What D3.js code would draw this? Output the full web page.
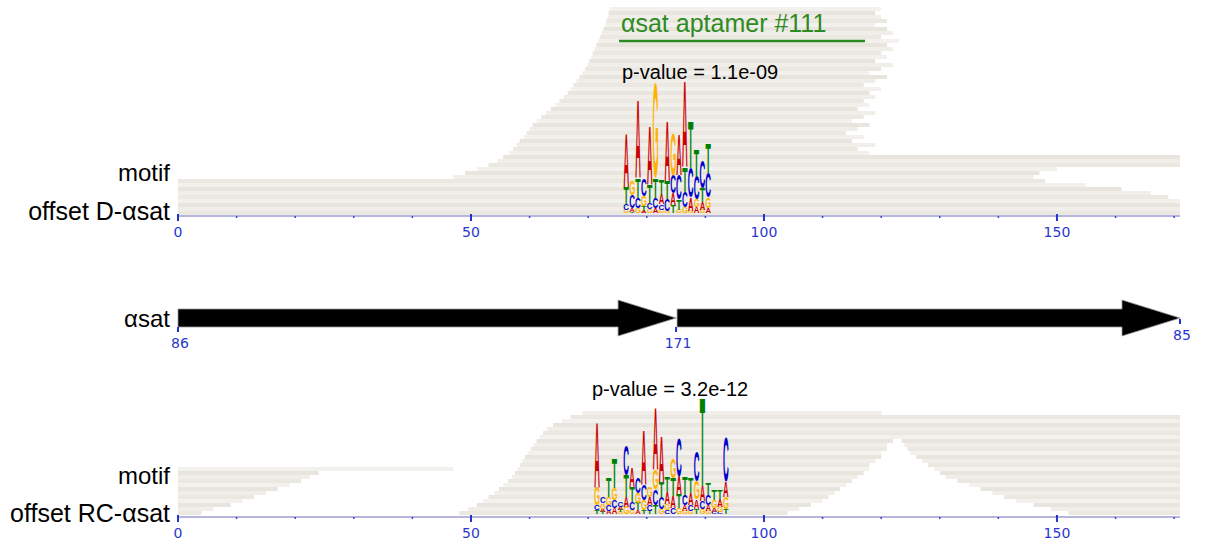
<!DOCTYPE html>
<html>
<head>
<meta charset="utf-8">
<script src="https://cdn.jsdelivr.net/npm/d3@7"></script>
<style>
  body { margin: 0; background: #fff; }
  text { font-family: "Liberation Sans", Arial, sans-serif; }
</style>
</head>
<body>
<svg id="chart" width="1208" height="546"></svg>
<script>
// offsets along the satellite monomer (0..171)
var offsetMax = 171;
var majorTicks = [0, 50, 100, 150];
var minorTicks = [10, 20, 30, 40, 60, 70, 80, 90, 110, 120, 130, 140, 160, 170];

// aligned reads, top panel (D strand): row from the bottom, start, end
var topRow   = [0, 1, 2, 3, 4, 5, 6, 7, 8,
                9, 10, 11, 12, 13, 14, 15, 16, 17, 18, 19, 20, 21, 22, 23, 24, 25, 26, 27, 28, 29, 30,
                31, 32, 33, 34, 35, 36, 37, 38, 39, 40, 41, 42, 43, 44, 45, 46, 47, 48, 49, 50, 51];
var topStart = [0, 0, 0, 0, 0, 0, 0, 0, 0,
                47, 49, 51, 53, 54.5, 55.5, 56.5, 57.2, 57.8, 58.3, 59, 59.5, 60, 60.5, 61.2, 62, 62.8, 63.6, 64.4, 65.1, 65.8, 66.5,
                67, 67.5, 68, 68.5, 69, 69.5, 69.9, 70.2, 70.5, 70.8, 71.1, 71.4, 71.7, 72, 72.3, 72.6, 72.9, 73.1, 73.3, 73.5, 73.7];
var topEnd   = [171, 171, 171, 171, 169, 166, 161, 155, 148,
                146, 147, 150, 171, 171, 171, 118, 116, 119, 115, 117, 114, 116, 118, 115, 117, 119, 116, 118, 117, 119, 118,
                120, 117, 119, 121, 118, 120, 122, 119, 121, 120, 122, 121, 123, 120, 122, 121, 119, 121, 120, 119, 120];

// aligned reads, bottom panel (RC strand)
var botRow   = [0, 1, 2, 3, 4, 5, 6, 7, 8, 9, 10, 11,
                0, 1, 2, 3, 4, 5, 6, 7, 8, 9, 10, 11, 12, 13, 14, 15, 16, 17, 18, 19, 20, 21, 22, 23, 24, 25,
                0, 1, 2, 3, 4, 5, 6, 7, 8, 9, 10, 11, 12, 13, 14, 15, 16, 17, 18];
var botStart = [0, 0, 0, 0, 0, 0, 0, 0, 0, 0, 0, 0,
                48, 49.5, 51, 52, 53, 54, 54.8, 55.5, 56.3, 57, 57.5, 58, 58.4, 58.8, 59.2, 59.7, 60.2, 60.7, 61.2, 61.7, 62.3, 63, 64, 65.5, 67, 69,
                152, 149, 146, 143, 141, 139, 137, 135, 133, 131, 130, 129, 128, 127, 126, 125, 124.5, 124, 123.5];
var botEnd   = [4, 6, 9, 11, 13, 15, 17, 19, 21, 22.5, 24, 47,
                104, 106, 108, 110, 111, 112, 113, 114, 115, 116, 117, 118, 118, 119, 120, 120, 121, 121, 122, 171, 171, 171, 171, 171, 171, 120,
                171, 171, 171, 171, 171, 171, 171, 171, 171, 171, 171, 171, 171, 171, 171, 171, 171, 171, 171];

// motif logos (bits per base)
var topLogoFirst = 76;
var topA = [0.80, 0.05, 1.18, 0.03, 0.88, 0.08, 0.15, 0.91, 0.18, 0.61, 1.29, 0.20, 0.09, 0.12, 0.08];
var topC = [0.09, 0.20, 0.15, 0.26, 0.09, 0.15, 0.08, 0.18, 0.27, 0.38, 0.23, 0.45, 0.35, 0.42, 0.38];
var topG = [0.05, 0.21, 0.08, 0.15, 0.06, 1.44, 0.05, 0.03, 0.64, 0.05, 0.09, 0.03, 0.11, 0.05, 0.15];
var topT = [0.26, 0.02, 0.30, 0.08, 0.27, 0.30, 0.23, 0.27, 0.12, 0.15, 0.38, 0.71, 0.41, 0.21, 0.45];

var botLogoFirst = 71;
var botA = [0.98, 0.05, 0.05, 0.09, 0.05, 0.15, 0.30, 0.06, 0.83, 0.12, 0.94, 0.68, 0.18, 0.18, 0.27, 0.09, 0.18, 0.14, 0.23, 0.09, 0.06, 0.12, 0.23];
var botC = [0.08, 0.09, 0.09, 0.12, 0.08, 0.45, 0.12, 0.23, 0.23, 0.09, 0.23, 0.18, 0.06, 0.09, 0.58, 0.15, 0.09, 0.45, 0.12, 0.15, 0.03, 0.03, 0.68];
var botG = [0.27, 0.08, 0.12, 0.18, 0.03, 0.11, 0.06, 0.15, 0.15, 0.15, 0.30, 0.08, 0.09, 0.30, 0.09, 0.05, 0.05, 0.27, 0.08, 0.05, 0.12, 0.08, 0.18];
var botT = [0.06, 0.03, 0.30, 0.45, 0.03, 0.33, 0.23, 0.11, 0.06, 0.05, 0.14, 0.23, 0.23, 0.27, 0.21, 0.27, 0.24, 0.08, 1.33, 0.18, 0.15, 0.14, 0.08];

// middle track: the monomer drawn as two arrows (86-171, 1-85)
var featureStart = [0, 85];
var featureEnd = [85, 171];
var trackTickPos = [0, 85, 171];
var trackTickLabels = ["86", "171", "85"];

var titleText = "\u03b1sat aptamer #111";
var pTop = "p-value = 1.1e-09";
var pBot = "p-value = 3.2e-12";

var svg = d3.select("#chart");
var x = d3.scaleLinear().domain([0, offsetMax]).range([178, 1180]);
var bits = d3.scaleLinear().domain([0, 2]).range([0, 132]);
var shades = ["#ebe7e1", "#f1eee9", "#e8e4de", "#f3f1ed"];
var letterColor = {A: "#cc0000", C: "#0000cc", G: "#ffb300", T: "#008000"};

function drawReads(rows, starts, ends, yBase, rowH) {
    var g = svg.append("g");
    var reads = rows.map(function (r, i) { return {row: r, s: starts[i], e: ends[i]}; });
    g.selectAll("rect").data(reads).enter().append("rect")
        .attr("x", function (d) { return x(d.s); })
        .attr("width", function (d) { return x(d.e) - x(d.s); })
        .attr("y", function (d) { return yBase - rowH * (d.row + 1); })
        .attr("height", rowH)
        .attr("fill", function (d) { return shades[d.row % shades.length]; });
}

// measure letter ink boxes once so glyphs can be stretched to fill a cell
var ctx = document.createElement("canvas").getContext("2d");
ctx.font = "bold 100px 'Liberation Sans'";
var ink = {};
"ACGT".split("").forEach(function (L) {
    var m = ctx.measureText(L);
    ink[L] = {l: m.actualBoundingBoxLeft, r: m.actualBoundingBoxRight,
              a: m.actualBoundingBoxAscent, d: m.actualBoundingBoxDescent};
});

function drawLogo(first, A, C, G, T, yBottom) {
    var g = svg.append("g");
    var colW = x(1) - x(0);
    A.forEach(function (a, i) {
        var stack = [["A", a], ["C", C[i]], ["G", G[i]], ["T", T[i]]];
        stack.sort(function (p, q) { return p[1] - q[1]; });
        var y = yBottom;
        var x0 = x(first + i) + 0.3;
        stack.forEach(function (p) {
            var h = bits(p[1]);
            if (h < 0.6) { y -= h; return; }
            var m = ink[p[0]];
            var sx = (colW - 0.6) / (m.l + m.r), sy = h / (m.a + m.d);
            g.append("text")
                .attr("x", m.l).attr("y", m.a)
                .attr("font-size", 100).attr("font-weight", "bold")
                .attr("fill", letterColor[p[0]])
                .attr("transform", "translate(" + x0 + "," + (y - h) + ") scale(" + sx + "," + sy + ")")
                .text(p[0]);
            y -= h;
        });
    });
}

function drawAxis(y) {
    var g = svg.append("g");
    g.append("line").attr("x1", x(0)).attr("x2", x(offsetMax))
        .attr("y1", y).attr("y2", y)
        .attr("stroke", "#9c9cd2").attr("stroke-width", 1.5);
    g.selectAll(".minor").data(minorTicks).enter().append("line")
        .attr("x1", function (d) { return x(d); }).attr("x2", function (d) { return x(d); })
        .attr("y1", y).attr("y2", y + 2)
        .attr("stroke", "#3b46d0").attr("stroke-width", 1.5);
    g.selectAll(".major").data(majorTicks).enter().append("line")
        .attr("x1", function (d) { return x(d); }).attr("x2", function (d) { return x(d); })
        .attr("y1", y - 2).attr("y2", y + 5)
        .attr("stroke", "#2233cc").attr("stroke-width", 2);
    g.selectAll("text").data(majorTicks).enter().append("text")
        .attr("x", function (d) { return x(d); }).attr("y", y + 21)
        .attr("text-anchor", "middle")
        .style("font-family", "'DejaVu Sans', Verdana, sans-serif")
        .attr("font-size", 14).attr("fill", "#2a36cf")
        .text(function (d) { return d; });
}

function label(txt, xr, y, size, color, anchor) {
    svg.append("text").attr("x", xr).attr("y", y)
        .attr("text-anchor", anchor || "end")
        .attr("font-size", size).attr("fill", color || "#000")
        .text(txt);
}

// top panel
drawReads(topRow, topStart, topEnd, 215, 4);
drawLogo(topLogoFirst, topA, topC, topG, topT, 213);
drawAxis(216);
label(titleText, 621, 32, 25, "#2e8b22", "start");
svg.append("line").attr("x1", 619).attr("x2", 865).attr("y1", 41).attr("y2", 41)
    .attr("stroke", "#2e8b22").attr("stroke-width", 2.5);
label(pTop, 622, 79, 20, "#000", "start");
label("motif", 170, 181, 24);
label("offset D-\u03b1sat", 170, 220, 25);

// middle track
var mid = 318;
var arrows = featureStart.map(function (s, i) { return {s: s, e: featureEnd[i]}; });
svg.append("g").selectAll("path").data(arrows).enter().append("path")
    .attr("d", function (d) {
        var xs = x(d.s) + (d.s > 0 ? 1 : 0), xe = x(d.e), hx = xe - 58;
        return "M" + xs + "," + (mid - 9) + "L" + hx + "," + (mid - 9) + "L" + hx + "," + (mid - 18) +
            "L" + xe + "," + mid + "L" + hx + "," + (mid + 18) + "L" + hx + "," + (mid + 9) +
            "L" + xs + "," + (mid + 9) + "Z";
    })
    .attr("fill", "#000").attr("stroke", "#999").attr("stroke-width", 0.8);
var tg = svg.append("g");
trackTickPos.forEach(function (p, i) {
    var last = i === trackTickPos.length - 1;
    var y0 = last ? mid + 1 : mid + 9;
    tg.append("line").attr("x1", x(p)).attr("x2", x(p)).attr("y1", y0).attr("y2", y0 + 5)
        .attr("stroke", "#2233cc").attr("stroke-width", 2);
    tg.append("text").attr("x", x(p) + 2).attr("y", y0 + 21)
        .attr("text-anchor", "middle")
        .style("font-family", "'DejaVu Sans', Verdana, sans-serif")
        .attr("font-size", 14).attr("fill", "#2a36cf").text(trackTickLabels[i]);
});
label("\u03b1sat", 170, 327, 24);

// bottom panel
drawReads(botRow, botStart, botEnd, 515, 4);
drawLogo(botLogoFirst, botA, botC, botG, botT, 514);
drawAxis(517);
label(pBot, 592, 396, 20, "#000", "start");
label("motif", 170, 484, 24);
label("offset RC-\u03b1sat", 170, 522, 25);
</script>
</body>
</html>
